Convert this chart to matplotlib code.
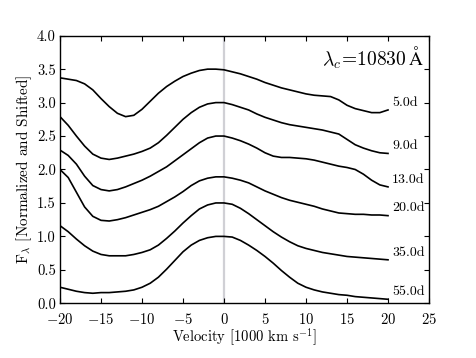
import numpy as np
import matplotlib
matplotlib.use('Agg')
import matplotlib.pyplot as plt

plt.rcParams['font.family'] = ['cmr10', 'DejaVu Serif']
plt.rcParams['mathtext.fontset'] = 'cm'
plt.rcParams['axes.formatter.use_mathtext'] = True

# velocity grid [1000 km/s]
velocity = list(range(-20, 21))

# normalized + shifted flux
flux_5d = [3.37, 3.35, 3.33, 3.28, 3.19, 3.06, 2.94, 2.84, 2.79, 2.81, 2.90,
           3.02, 3.14, 3.24, 3.32, 3.39, 3.44, 3.48, 3.50, 3.50, 3.49,
           3.46, 3.43, 3.39, 3.35, 3.30, 3.26, 3.22, 3.19, 3.16, 3.13,
           3.11, 3.10, 3.09, 3.04, 2.96, 2.91, 2.88, 2.85, 2.85, 2.89]
flux_9d = [2.79, 2.66, 2.50, 2.35, 2.23, 2.17, 2.15, 2.17, 2.20, 2.23, 2.27,
           2.32, 2.40, 2.51, 2.63, 2.75, 2.85, 2.93, 2.98, 3.00, 3.00,
           2.97, 2.93, 2.89, 2.83, 2.78, 2.74, 2.70, 2.67, 2.65, 2.63,
           2.61, 2.59, 2.56, 2.53, 2.45, 2.37, 2.32, 2.28, 2.25, 2.24]
flux_13d = [2.29, 2.21, 2.08, 1.90, 1.76, 1.70, 1.68, 1.70, 1.74, 1.79, 1.84,
            1.90, 1.97, 2.04, 2.13, 2.22, 2.31, 2.40, 2.47, 2.50, 2.50,
            2.47, 2.43, 2.38, 2.32, 2.25, 2.20, 2.18, 2.18, 2.17, 2.16,
            2.14, 2.11, 2.08, 2.05, 2.03, 2.00, 1.93, 1.84, 1.77, 1.74]
flux_20d = [2.00, 1.88, 1.66, 1.44, 1.30, 1.24, 1.23, 1.25, 1.28, 1.32, 1.36,
            1.40, 1.45, 1.52, 1.59, 1.67, 1.76, 1.83, 1.87, 1.89, 1.89,
            1.87, 1.84, 1.80, 1.74, 1.68, 1.63, 1.58, 1.54, 1.51, 1.48,
            1.45, 1.41, 1.38, 1.35, 1.34, 1.33, 1.33, 1.32, 1.32, 1.31]
flux_35d = [1.16, 1.07, 0.96, 0.86, 0.78, 0.73, 0.71, 0.71, 0.71, 0.73, 0.76,
            0.80, 0.87, 0.97, 1.08, 1.20, 1.31, 1.41, 1.47, 1.50, 1.50,
            1.48, 1.42, 1.34, 1.25, 1.16, 1.07, 0.99, 0.92, 0.86, 0.82,
            0.79, 0.76, 0.74, 0.72, 0.70, 0.69, 0.68, 0.67, 0.66, 0.65]
flux_55d = [0.24, 0.21, 0.18, 0.16, 0.15, 0.16, 0.16, 0.17, 0.18, 0.20, 0.24,
            0.30, 0.39, 0.51, 0.64, 0.77, 0.87, 0.94, 0.98, 1.00, 1.00,
            0.99, 0.94, 0.87, 0.79, 0.70, 0.60, 0.49, 0.39, 0.30, 0.24,
            0.20, 0.17, 0.15, 0.13, 0.12, 0.10, 0.09, 0.08, 0.07, 0.06]

epochs = ['5.0d', '9.0d', '13.0d', '20.0d', '35.0d', '55.0d']
spectra = [flux_5d, flux_9d, flux_13d, flux_20d, flux_35d, flux_55d]

fig = plt.figure(figsize=(4.77, 3.58), dpi=100)
ax = fig.add_axes([0.1258, 0.1528, 0.7736, 0.7475])

ax.axvline(0, color='#d0d0d5', lw=1.6, zorder=1)

for label, flux in zip(epochs, spectra):
    ax.plot(velocity, flux, color='black', lw=1.2, zorder=2)
    # epoch label just above the red end of each curve
    ax.text(velocity[-1] + 0.5, flux[-1] + 0.11, label, fontsize=10,
            ha='left', va='center')

ax.text(0.985, 0.965, r'$\lambda_c\!=\!10830\,\mathrm{\AA}$', transform=ax.transAxes,
        fontsize=14, ha='right', va='top')

ax.set_xlim(-20, 25)
ax.set_ylim(0, 4)
ax.set_xticks(np.arange(-20, 26, 5))
ax.set_yticks(np.arange(0, 4.01, 0.5))
ax.set_yticklabels(['%.1f' % v for v in np.arange(0, 4.01, 0.5)])

ax.tick_params(direction='in', top=True, right=True, length=3.5, width=0.8,
               labelsize=10.5)
ax.tick_params(axis='x', pad=6)
ax.tick_params(axis='y', pad=3)
for s in ax.spines.values():
    s.set_linewidth(1.0)

ax.set_xlabel(r'Velocity [1000 km s$^{-1}$]', fontsize=10.5, labelpad=0)
ax.set_ylabel(r'F$_\lambda$ [Normalized and Shifted]', fontsize=11, labelpad=2)

fig.savefig('out.png', dpi=100)
